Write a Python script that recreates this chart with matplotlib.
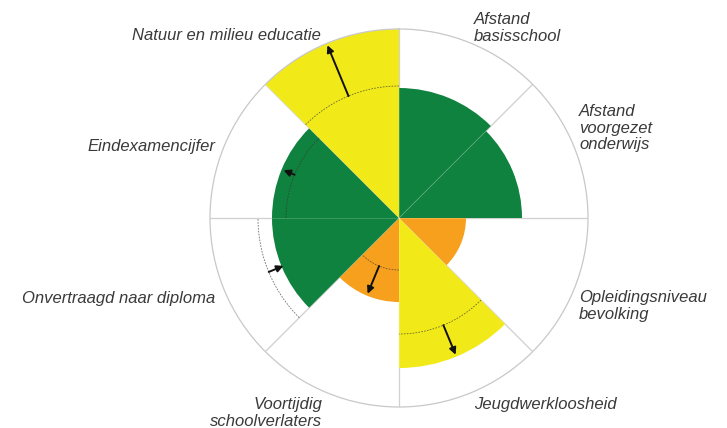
import numpy as np
import matplotlib
matplotlib.use("Agg")
import matplotlib.pyplot as plt

# --------------------
# Data (radius in chart units, outer circle = 189)
# --------------------
labels = [
    "Afstand\nbasisschool",
    "Afstand\nvoorgezet\nonderwijs",
    "Opleidingsniveau\nbevolking",
    "Jeugdwerkloosheid",
    "Voortijdig\nschoolverlaters",
    "Onvertraagd naar diploma",
    "Eindexamencijfer",
    "Natuur en milieu educatie",
]
current = [130, 123, 67, 150, 84, 127, 127, 189]
previous = [None, None, None, 116, 52, 141, 113, 132]
status = ["green", "green", "orange", "yellow", "orange", "green", "green", "yellow"]

# --------------------
# Style / layout
# --------------------
COLORS = {"green": "#10823F", "yellow": "#F2EA18", "orange": "#F6A01E"}
RMAX = 189
W, H = 727, 428
CX, CY = 399, 218  # centre in pixels (from top)

# label anchors in pixels: (x, y from top, horizontal alignment)
label_pos = [
    (474, 28, "left"),
    (579, 128, "left"),
    (579, 306, "left"),
    (474, 405, "left"),
    (322, 413, "right"),
    (215, 298, "right"),
    (215, 146, "right"),
    (321, 35, "right"),
]

fig = plt.figure(figsize=(W / 100, H / 100), dpi=100)
ax = fig.add_axes([(CX - RMAX) / W, (H - CY - RMAX) / H, 2 * RMAX / W, 2 * RMAX / H],
                  projection="polar")
ax.set_theta_zero_location("N")
ax.set_theta_direction(-1)
ax.set_ylim(0, RMAX)
ax.grid(False)
ax.set_xticks([])
ax.set_yticks([])
ax.spines["polar"].set_color("#c8c8c8")
ax.spines["polar"].set_linewidth(0.9)

n = len(current)
step = 2 * np.pi / n
mids = np.arange(n) * step + step / 2

# bars
ax.bar(mids, current, width=step, color=[COLORS[s] for s in status],
       edgecolor="none", zorder=2)

# radial separators (faint over the bars)
for k in range(n):
    ax.plot([k * step, k * step], [0, RMAX], color="#c8c8c8", lw=0.9, zorder=1)
    ax.plot([k * step, k * step], [0, RMAX], color="white", lw=0.5, alpha=0.25, zorder=3)

# previous value arcs and arrows
for i in range(n):
    if previous[i] is None:
        continue
    th = np.linspace(i * step, (i + 1) * step, 60)
    ax.plot(th, np.full_like(th, previous[i]), color="#333333", lw=0.6,
            ls=(0, (2, 1.5)), alpha=0.7, zorder=4)
    ax.annotate("", xy=(mids[i], current[i] - 2), xytext=(mids[i], previous[i]),
                arrowprops=dict(arrowstyle="-|>", color="#111111", lw=1.4,
                                mutation_scale=10, shrinkA=0, shrinkB=0),
                zorder=5)

# labels
for text, (x, y, ha) in zip(labels, label_pos):
    fig.text(x / W, 1 - y / H, text, ha=ha, va="center", multialignment=ha,
             fontsize=12, fontstyle="italic", color="#3a3a3a",
             family=["Liberation Sans", "DejaVu Sans"], linespacing=1.12)

fig.savefig("out.png", dpi=100)
